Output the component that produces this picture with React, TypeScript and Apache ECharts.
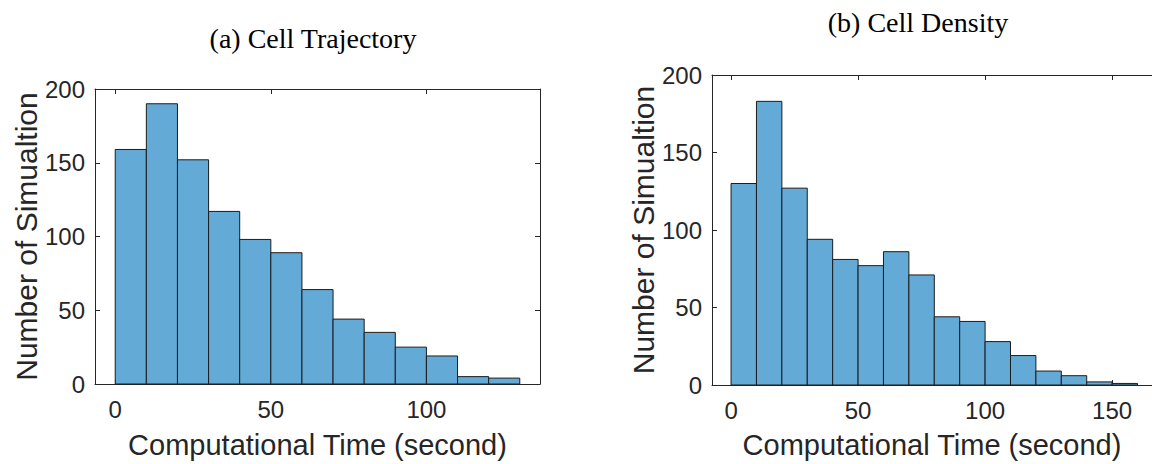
import React, { useEffect, useRef } from "react";
import * as echarts from "echarts";

// Histogram (a): Cell Trajectory — bins of 10 s starting at 0
const binWidth = 10;
const trajBinStarts = [0, 10, 20, 30, 40, 50, 60, 70, 80, 90, 100, 110, 120];
const trajCounts = [159, 190, 152, 117, 98, 89, 64, 44, 35, 25, 19, 5, 4];

// Histogram (b): Cell Density
const densBinStarts = [0, 10, 20, 30, 40, 50, 60, 70, 80, 90, 100, 110, 120, 130, 140, 150];
const densCounts = [130, 183, 127, 94, 81, 77, 86, 71, 44, 41, 28, 19, 9, 6, 2, 1];

const trajXTicks = [0, 50, 100];
const densXTicks = [0, 50, 100, 150];
const yTicks = [0, 50, 100, 150, 200];

const titleA = "(a) Cell Trajectory";
const titleB = "(b) Cell Density";
const xName = "Computational Time (second)";
const yName = "Number of Simualtion";

const AX = "#262626";
const SANS = "'Liberation Sans', Arial, Helvetica, sans-serif";
const SERIF = "'Liberation Serif', 'Times New Roman', serif";
const FILL = "#64aad7";
const EDGE = "#1c1c1c";

function histSeries(starts: number[], counts: number[], idx: number) {
  return {
    type: "custom",
    xAxisIndex: idx * 2,
    yAxisIndex: idx * 2,
    data: starts.map((s, i) => [s, s + binWidth, counts[i]]),
    encode: { x: [0, 1], y: 2 },
    renderItem: (params: any, api: any) => {
      const p0 = api.coord([api.value(0), 0]);
      const p1 = api.coord([api.value(1), api.value(2)]);
      return {
        type: "rect",
        shape: { x: p0[0], y: p1[1], width: p1[0] - p0[0], height: p0[1] - p1[1] },
        style: { fill: FILL, stroke: EDGE, lineWidth: 1 },
      };
    },
  };
}

function xAxes(grid: number, min: number, max: number, ticks: number[], gap: number) {
  return [
    {
      type: "value",
      gridIndex: grid,
      position: "bottom",
      min,
      max,
      name: xName,
      nameLocation: "middle",
      nameGap: gap,
      nameTextStyle: { fontFamily: SANS, fontSize: 29, color: AX },
      axisLine: { show: true, onZero: false, lineStyle: { color: AX, width: 1 } },
      axisTick: { show: true, inside: true, length: 5, customValues: ticks, lineStyle: { color: AX } },
      axisLabel: { show: true, customValues: ticks, fontFamily: SANS, fontSize: 24, color: AX, margin: 13 },
      splitLine: { show: false },
    },
    {
      type: "value",
      gridIndex: grid,
      position: "top",
      min,
      max,
      axisLine: { show: true, onZero: false, lineStyle: { color: AX, width: 1 } },
      axisTick: { show: true, inside: true, length: 5, customValues: ticks, lineStyle: { color: AX } },
      axisLabel: { show: false },
      splitLine: { show: false },
    },
  ];
}

function yAxes(grid: number, gap: number, showRight: boolean) {
  return [
    {
      type: "value",
      gridIndex: grid,
      position: "left",
      min: 0,
      max: 200,
      interval: 50,
      name: yName,
      nameLocation: "middle",
      nameRotate: 90,
      nameGap: gap,
      nameTextStyle: { fontFamily: SANS, fontSize: 30, color: AX },
      axisLine: { show: true, onZero: false, lineStyle: { color: AX, width: 1 } },
      axisTick: { show: true, inside: true, length: 5, lineStyle: { color: AX } },
      axisLabel: {
        show: true,
        fontFamily: SANS,
        fontSize: 24,
        color: AX,
        margin: 10,
        formatter: (v: number) => (yTicks.includes(v) ? String(v) : ""),
      },
      splitLine: { show: false },
    },
    {
      type: "value",
      gridIndex: grid,
      position: "right",
      min: 0,
      max: 200,
      interval: 50,
      show: showRight,
      axisLine: { show: true, onZero: false, lineStyle: { color: AX, width: 1 } },
      axisTick: { show: true, inside: true, length: 5, lineStyle: { color: AX } },
      axisLabel: { show: false },
      splitLine: { show: false },
    },
  ];
}

export default function App() {
  const ref = useRef<HTMLDivElement>(null);
  useEffect(() => {
    if (!ref.current) return;
    const chart = echarts.init(ref.current, null, { renderer: "svg" });
    chart.setOption({
      animation: false,
      backgroundColor: "#ffffff",
      grid: [
        { left: 95, top: 89, width: 445, height: 296 },
        { left: 712, top: 75, width: 440, height: 311 },
      ],
      xAxis: [
        ...xAxes(0, -6.5, 136.5, trajXTicks, 46),
        ...xAxes(1, -7.5, 165.7, densXTicks, 45),
      ],
      yAxis: [...yAxes(0, 52, true), ...yAxes(1, 49, false)],
      series: [histSeries(trajBinStarts, trajCounts, 0), histSeries(densBinStarts, densCounts, 1)],
      graphic: [
        {
          type: "text",
          x: 313,
          y: 38,
          style: {
            text: titleA,
            fontFamily: SERIF,
            fontSize: 28,
            fill: "#000",
            textAlign: "center",
            textVerticalAlign: "middle",
          },
        },
        {
          type: "text",
          x: 918,
          y: 22,
          style: {
            text: titleB,
            fontFamily: SERIF,
            fontSize: 28,
            fill: "#000",
            textAlign: "center",
            textVerticalAlign: "middle",
          },
        },
      ],
    });
    return () => chart.dispose();
  }, []);
  return (
    <div
      ref={ref}
      style={{ position: "fixed", left: 0, top: 0, width: 1152, height: 464, background: "#fff" }}
    />
  );
}
